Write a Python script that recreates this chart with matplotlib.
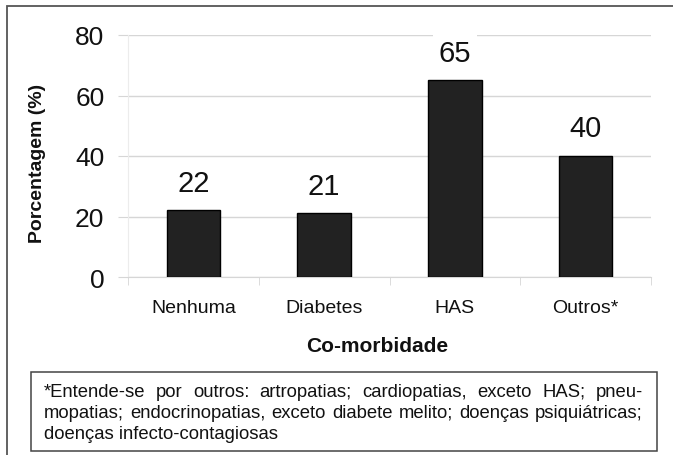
import matplotlib
matplotlib.use("Agg")
import matplotlib.pyplot as plt
from matplotlib.patches import Rectangle

plt.rcParams["font.family"] = ["Liberation Sans", "DejaVu Sans"]

categories = ["Nenhuma", "Diabetes", "HAS", "Outros*"]
values = [22, 21, 65, 40]
y_ticks = [0, 20, 40, 60, 80]

x_label = "Co-morbidade"
y_label = "Porcentagem (%)"
footnote_lines = [
    "*Entende-se por outros: artropatias; cardiopatias, exceto HAS; pneu-",
    "mopatias; endocrinopatias, exceto diabete melito; doenças psiquiátricas;",
    "doenças infecto-contagiosas",
]

W, H = 673, 456
fig = plt.figure(figsize=(W / 100, H / 100), dpi=100)
fig.patch.set_facecolor("white")

# axes box in pixels: left 128, right 651, top 36, bottom 278
ax = fig.add_axes([128 / W, 1 - 278 / H, (651 - 128) / W, (278 - 36) / H])

grid_color = "#d6d6d6"
x = list(range(len(categories)))
ax.bar(x, values, width=0.41, color="#222222", edgecolor="black", linewidth=1, zorder=3)

for xi, v in zip(x, values):
    ax.annotate(str(v), (xi, v), xytext=(0, 20), textcoords="offset points",
                ha="center", va="center", fontsize=21, color="#111111", zorder=4,
                bbox=dict(boxstyle="square,pad=0.2", fc="white", ec="none"))

ax.set_xlim(-0.5, len(categories) - 0.5)
ax.set_ylim(0, 80)
ax.set_yticks(y_ticks)
ax.set_yticklabels([str(t) for t in y_ticks], fontsize=19, color="#111111")
ax.set_xticks(x)
ax.set_xticklabels(categories, fontsize=14, color="#111111")
ax.set_xticks([i - 0.5 for i in range(len(categories) + 1)], minor=True)

ax.tick_params(axis="y", length=7, color=grid_color, pad=10)
ax.tick_params(axis="x", which="major", length=0, pad=16)
ax.tick_params(axis="x", which="minor", length=6, color=grid_color)

ax.grid(axis="y", color=grid_color, linewidth=1, zorder=0)
ax.set_axisbelow(True)
for side in ["top", "right"]:
    ax.spines[side].set_visible(False)
ax.spines["left"].set_color("#ececec")
ax.spines["bottom"].set_color(grid_color)

ax.set_xlabel(x_label, fontsize=15, fontweight="bold", color="#111111", va="center")
ax.xaxis.set_label_coords((377 - 128) / 523, (278 - 347) / 242)
ax.set_ylabel(y_label, fontsize=14, fontweight="bold", color="#111111", va="center")
ax.yaxis.set_label_coords((38 - 128) / 523, (278 - 163) / 242)

# outer frame (cut by the right and bottom edges)
fig.add_artist(Rectangle((7 / W, -0.1), 1.2, 1 - 7 / H + 0.1, transform=fig.transFigure,
                         fill=False, ec="#555555", lw=1.3, clip_on=False))

# footnote box
fig.add_artist(Rectangle((31 / W, 1 - 452 / H), (657 - 31) / W, (452 - 373) / H,
                         transform=fig.transFigure, fill=False, ec="#444444", lw=1.1))

# justified footnote text
fig.canvas.draw()
renderer = fig.canvas.get_renderer()
x0, x1 = 44, 643
baselines = [397, 418, 439]
fs = 13.3
for i, (line, yb) in enumerate(zip(footnote_lines, baselines)):
    if i == len(footnote_lines) - 1:
        fig.text(x0 / W, 1 - yb / H, line, fontsize=fs, va="baseline", color="#111111")
        continue
    words = line.split(" ")
    texts = [fig.text(0, 1 - yb / H, w, fontsize=fs, va="baseline", color="#111111")
             for w in words]
    widths = [t.get_window_extent(renderer).width for t in texts]
    gap = (x1 - x0 - sum(widths)) / (len(words) - 1)
    pos = x0
    for t, w in zip(texts, widths):
        t.set_x(pos / W)
        pos += w + gap

fig.savefig("out.png", dpi=100)
